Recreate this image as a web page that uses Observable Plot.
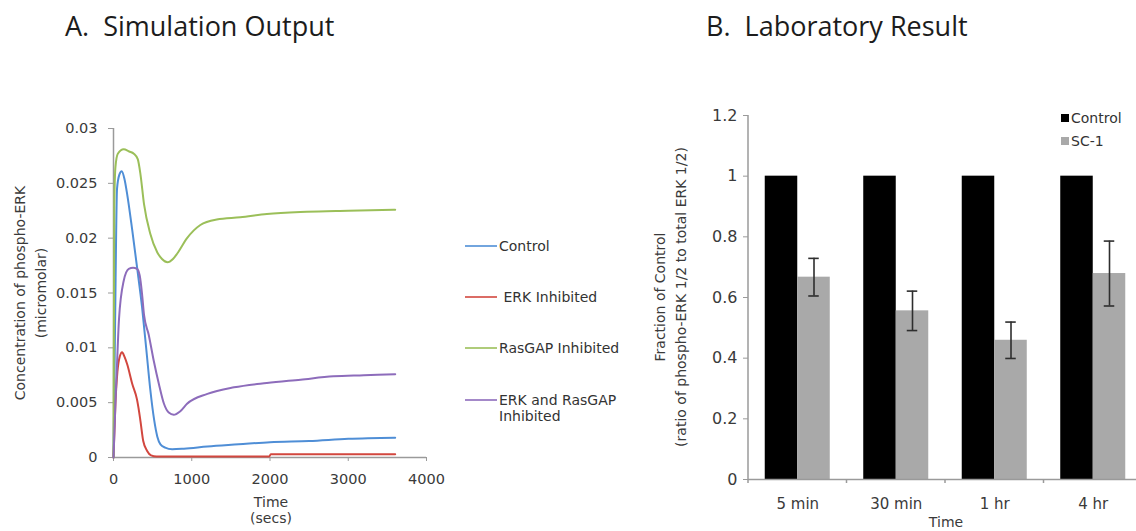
<!DOCTYPE html>
<html>
<head>
<meta charset="utf-8">
<script src="https://cdn.jsdelivr.net/npm/d3@7"></script>
<script src="https://cdn.jsdelivr.net/npm/@observablehq/plot@0.6"></script>
<style>
  html, body { margin: 0; padding: 0; background: #fff; overflow: hidden; }
  #root { position: relative; width: 1136px; height: 531px; font-family: "DejaVu Sans", sans-serif; color: #3a3a3a; }
  .abs { position: absolute; white-space: nowrap; }
  .title { font-family: "Open Sans", sans-serif; font-size: 27px; line-height: 27px; color: #1c1c1c; }
  .lab { font-size: 14px; line-height: 16px; text-align: center; transform: translate(-50%, -50%); }
  .ylab { font-size: 14px; line-height: 21px; text-align: center; transform: translate(-50%, -50%) rotate(-90deg); }
  .leg { font-size: 14px; line-height: 16px; color: #333; }
  .svgA, .svgB { position: absolute; }
</style>
</head>
<body>
<div id="root">
  <div class="abs title" style="left:65px; top:12px;">A.&nbsp; Simulation Output</div>
  <div class="abs title" style="left:706px; top:12px;">B.&nbsp; Laboratory Result</div>
</div>
<script>
// ---------- Panel A: simulation output (time in secs, phospho-ERK in micromolar) ----------
const seriesNames = ["Control", "ERK Inhibited", "RasGAP Inhibited", "ERK and RasGAP Inhibited"];
const seriesColors = ["#4f8ed6", "#d2473f", "#9bbf59", "#8d6cbb"];

const controlT = [0, 20, 45, 75, 105, 140, 175, 240, 300, 365, 420, 470, 520, 560, 600, 660, 750, 900, 1200, 1600, 2000, 2500, 3000, 3600];
const controlV = [0, 0.012, 0.0245, 0.0258, 0.0261, 0.0254, 0.024, 0.0207, 0.0174, 0.0137, 0.0098, 0.0062, 0.0034, 0.0019, 0.0012, 0.0009, 0.00075, 0.0008, 0.001, 0.0012, 0.0014, 0.0015, 0.0017, 0.0018];

const erkT = [0, 25, 50, 80, 110, 140, 175, 240, 300, 320, 345, 380, 430, 480, 550, 1000, 1990, 2010, 3600];
const erkV = [0, 0.005, 0.0078, 0.0092, 0.0096, 0.0092, 0.0085, 0.0067, 0.0053, 0.0045, 0.0033, 0.0015, 0.0006, 0.0002, 0.0001, 0.0001, 0.0001, 0.0003, 0.0003];

const rasgapT = [0, 10, 25, 55, 130, 200, 260, 310, 345, 390, 470, 560, 620, 690, 760, 815, 940, 1110, 1320, 1620, 1960, 2470, 3000, 3600];
const rasgapV = [0, 0.023, 0.0265, 0.0277, 0.0281, 0.0279, 0.0277, 0.0272, 0.0258, 0.0231, 0.0204, 0.0187, 0.0181, 0.0178, 0.0181, 0.0186, 0.02, 0.0212, 0.0217, 0.0219, 0.0222, 0.0224, 0.0225, 0.0226];

const bothT = [0, 25, 45, 70, 130, 195, 250, 300, 335, 365, 390, 450, 515, 580, 645, 706, 770, 850, 940, 1200, 1540, 1960, 2390, 2810, 3200, 3600];
const bothV = [0, 0.005, 0.0085, 0.0126, 0.0161, 0.0172, 0.0173, 0.0172, 0.0166, 0.0149, 0.013, 0.0112, 0.0088, 0.0067, 0.0049, 0.0041, 0.0039, 0.0042, 0.0049, 0.0058, 0.0064, 0.0068, 0.0071, 0.0074, 0.0075, 0.0076];

const xTicksA = [0, 1000, 2000, 3000, 4000];
const yTicksA = [0, 0.005, 0.01, 0.015, 0.02, 0.025, 0.03];

// ---------- Panel B: laboratory result ----------
const timePoints = ["5 min", "30 min", "1 hr", "4 hr"];
const groupNames = ["Control", "SC-1"];
const groupColors = ["#000000", "#a9a9a9"];
const controlValues = [1, 1, 1, 1];
const sc1Values = [0.667, 0.556, 0.459, 0.679];
const sc1Errors = [0.062, 0.065, 0.06, 0.107];
const yTicksB = [0, 0.2, 0.4, 0.6, 0.8, 1, 1.2];

// ---------- build tables ----------
const simSeries = [[controlT, controlV], [erkT, erkV], [rasgapT, rasgapV], [bothT, bothV]];
const simRows = simSeries.flatMap(([ts, vs], i) => ts.map((t, j) => ({series: seriesNames[i], t, v: vs[j]})));

const labRows = timePoints.flatMap((time, i) => [
  {time, group: groupNames[0], value: controlValues[i], err: 0},
  {time, group: groupNames[1], value: sc1Values[i], err: sc1Errors[i]}
]);
const sc1Rows = labRows.filter(d => d.group === groupNames[1]);

const root = document.getElementById("root");
const axisGray = "#9a9a9a";
const textGray = "#3a3a3a";

// ---------- chart A ----------
const chartA = Plot.plot({
  width: 440, height: 431,
  marginLeft: 113, marginRight: 14, marginTop: 28, marginBottom: 74,
  style: {fontFamily: "DejaVu Sans, sans-serif", fontSize: "14.5px", color: textGray, background: "transparent", overflow: "visible"},
  x: {domain: [0, 4000], label: null},
  y: {domain: [0, 0.03], label: null},
  color: {domain: seriesNames, range: seriesColors},
  marks: [
    Plot.axisX({ticks: xTicksA, tickFormat: d => String(d), tickSize: 4, tickPadding: 12, stroke: axisGray, fill: textGray, label: null}),
    Plot.axisY({ticks: yTicksA, tickFormat: d => String(d), tickSize: 5, tickPadding: 11, stroke: axisGray, fill: textGray, label: null}),
    Plot.ruleX([0], {stroke: axisGray, strokeWidth: 1.5}),
    Plot.ruleY([0], {stroke: axisGray, strokeWidth: 1.5}),
    Plot.line(simRows, {x: "t", y: "v", z: "series", stroke: "series", strokeWidth: 2, curve: "monotone-x"})
  ]
});
chartA.classList.add("svgA");
chartA.style.left = "0px";
chartA.style.top = "100px";
root.appendChild(chartA);

// ---------- chart B ----------
const chartB = Plot.plot({
  width: 502, height: 431,
  marginLeft: 108, marginRight: 0, marginTop: 15, marginBottom: 52,
  style: {fontFamily: "DejaVu Sans, sans-serif", fontSize: "15px", color: textGray, background: "transparent", overflow: "visible"},
  fx: {domain: timePoints, padding: 0, round: false, label: null},
  x: {domain: groupNames, paddingInner: 0, paddingOuter: 0.515, round: false, axis: null},
  y: {domain: [0, 1.2], label: null},
  color: {domain: groupNames, range: groupColors},
  marks: [
    Plot.barY(labRows, {fx: "time", x: "group", y: "value", fill: "group"}),
    Plot.ruleX(sc1Rows, {fx: "time", x: "group", y1: d => d.value - d.err, y2: d => d.value + d.err, stroke: "#2e2e2e", strokeWidth: 1.6}),
    Plot.tickY(sc1Rows, {fx: "time", x: "group", y: d => d.value + d.err, stroke: "#2e2e2e", strokeWidth: 1.6, inset: 11}),
    Plot.tickY(sc1Rows, {fx: "time", x: "group", y: d => d.value - d.err, stroke: "#2e2e2e", strokeWidth: 1.6, inset: 11}),
    Plot.ruleY([0], {stroke: axisGray, strokeWidth: 1.5}),
    Plot.axisY({anchor: "left", ticks: yTicksB, tickFormat: d => String(d), tickSize: 5, tickPadding: 6, fontSize: 16, stroke: axisGray, fill: textGray, label: null}),
    Plot.axisFx({anchor: "bottom", tickSize: 0, tickPadding: 19, fill: textGray, label: null})
  ]
});
chartB.classList.add("svgB");
chartB.style.left = "640px";
chartB.style.top = "100px";
root.appendChild(chartB);

// y axis line and category boundary ticks for B, placed with the chart's own scales
{
  const fx = chartB.scale("fx");
  const y = chartB.scale("y");
  const y0 = y.apply(0), yTop = y.apply(1.2);
  const x0 = fx.apply(timePoints[0]);
  const edges = timePoints.map(d => fx.apply(d)).concat([fx.apply(timePoints[timePoints.length - 1]) + fx.bandwidth]);
  const g = d3.select(chartB).append("g").attr("stroke", axisGray).attr("stroke-width", 1.5);
  g.append("line").attr("x1", x0).attr("x2", x0).attr("y1", y0).attr("y2", yTop);
  edges.forEach(e => g.append("line").attr("x1", e).attr("x2", e).attr("y1", y0).attr("y2", y0 + 4));
}

// ---------- HTML labels & legends ----------
function addDiv(cls, style, html) {
  const el = document.createElement("div");
  el.className = "abs " + cls;
  el.setAttribute("style", style);
  el.innerHTML = html;
  root.appendChild(el);
  return el;
}
// Panel A axis titles
addDiv("ylab", "left:31px; top:293px;", "Concentration of phospho-ERK<br>(micromolar)");
addDiv("lab", "left:271px; top:510px;", "Time<br>(secs)");
// Panel B axis titles
addDiv("ylab", "left:671px; top:297px;", "Fraction of Control<br>(ratio of phospho-ERK 1/2 to total ERK 1/2)");
addDiv("lab", "left:946px; top:522px; line-height:14px;", "Time");

// Panel A legend
const legendA = [
  {name: "Control", y: 246, text: "Control"},
  {name: "ERK Inhibited", y: 297, text: "&nbsp;ERK Inhibited"},
  {name: "RasGAP Inhibited", y: 348, text: "RasGAP Inhibited"},
  {name: "ERK and RasGAP Inhibited", y: 400, text: "ERK and RasGAP<br>Inhibited"}
];
legendA.forEach(item => {
  const c = seriesColors[seriesNames.indexOf(item.name)];
  addDiv("", `left:465px; top:${item.y - 1}px; width:32px; height:2px; background:${c}; opacity:0.8;`, "");
  addDiv("leg", `left:499px; top:${item.y - 8}px;`, item.text);
});

// Panel B legend
groupNames.forEach((name, i) => {
  const yc = 118 + i * 23;
  addDiv("", `left:1061px; top:${yc - 4}px; width:8px; height:8px; background:${groupColors[i]};`, "");
  addDiv("leg", `left:1071px; top:${yc - 8}px;`, name);
});
</script>
</body>
</html>
